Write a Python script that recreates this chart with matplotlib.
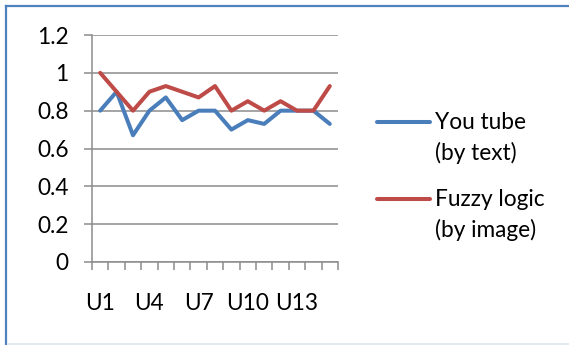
import matplotlib
matplotlib.use("Agg")
import matplotlib.pyplot as plt
from matplotlib.lines import Line2D
import numpy as np

# Data
categories = [f"U{i}" for i in range(1, 16)]
youtube_by_text = [0.8, 0.9, 0.67, 0.8, 0.87, 0.75, 0.8, 0.8, 0.7, 0.75, 0.73, 0.8, 0.8, 0.8, 0.73]
fuzzy_by_image = [1.0, 0.9, 0.8, 0.9, 0.93, 0.9, 0.87, 0.93, 0.8, 0.85, 0.8, 0.85, 0.8, 0.8, 0.93]
series_names = [("You tube", "(by text)"), ("Fuzzy logic", "(by image)")]
series_colors = ["#4a7ebb", "#be4b48"]
y_ticks = [0, 0.2, 0.4, 0.6, 0.8, 1.0, 1.2]
y_tick_labels = ["0", "0.2", "0.4", "0.6", "0.8", "1", "1.2"]
label_step = 3

W, H, DPI = 569, 345, 100
FONT = "Lato"
FS = 16.3
GRAY = "#8c8c8c"

plt.rcParams["font.family"] = [FONT, "DejaVu Sans"]

fig = plt.figure(figsize=(W / DPI, H / DPI), dpi=DPI)
fig.patch.set_facecolor("white")

ax = fig.add_axes([92 / W, 1 - 262 / H, 246 / W, 227 / H])
x = np.arange(1, len(categories) + 1)
series = [youtube_by_text, fuzzy_by_image]
for vals, col in zip(series, series_colors):
    ax.plot(x, vals, color=col, lw=2.9, solid_capstyle="round",
            solid_joinstyle="round", zorder=3, clip_on=False)

ax.set_xlim(0.5, len(categories) + 0.5)
ax.set_ylim(0, 1.2)

# y axis
ax.set_yticks(y_ticks)
ax.set_yticklabels(y_tick_labels, fontsize=FS)
ax.yaxis.grid(True, color=GRAY, lw=1.1)
ax.tick_params(axis="y", direction="out", length=6, width=1.1, color=GRAY, pad=11)

# x axis: tick marks between categories, labels at category centres
ax.set_xticks(np.arange(0.5, len(categories) + 1, 1.0))
ax.set_xticklabels([])
ax.tick_params(axis="x", which="major", direction="out", length=6, width=1.1, color=GRAY)
ax.set_xticks(x[::label_step], minor=True)
ax.set_xticklabels(categories[::label_step], minor=True, fontsize=FS)
ax.tick_params(axis="x", which="minor", length=0, pad=22)

for s in ("top", "right"):
    ax.spines[s].set_visible(False)
for s in ("left", "bottom"):
    ax.spines[s].set_color(GRAY)
    ax.spines[s].set_linewidth(1.1)
ax.set_axisbelow(True)

# legend
handle_ys = [122, 199]
for (l1, l2), col, hy in zip(series_names, series_colors, handle_ys):
    fig.add_artist(Line2D([377 / W, 430 / W], [1 - hy / H, 1 - hy / H],
                          color=col, lw=2.9, solid_capstyle="round"))
    fig.text(435 / W, 1 - (hy + 7) / H, l1, fontsize=FS, va="baseline", ha="left")
    fig.text(435 / W, 1 - (hy + 38) / H, l2, fontsize=FS, va="baseline", ha="left")

# chart frame
fig.add_artist(Line2D([6 / W, 6 / W], [0, 1 - 6 / H], color="#4f81bd", lw=1.6))
fig.add_artist(Line2D([6 / W, 1], [1 - 6 / H, 1 - 6 / H], color="#4f81bd", lw=1.6))
fig.add_artist(Line2D([8 / W, 1], [1 - 344 / H, 1 - 344 / H], color="#dbe5f1", lw=1.2))

fig.savefig("out.png", dpi=DPI, facecolor="white")
